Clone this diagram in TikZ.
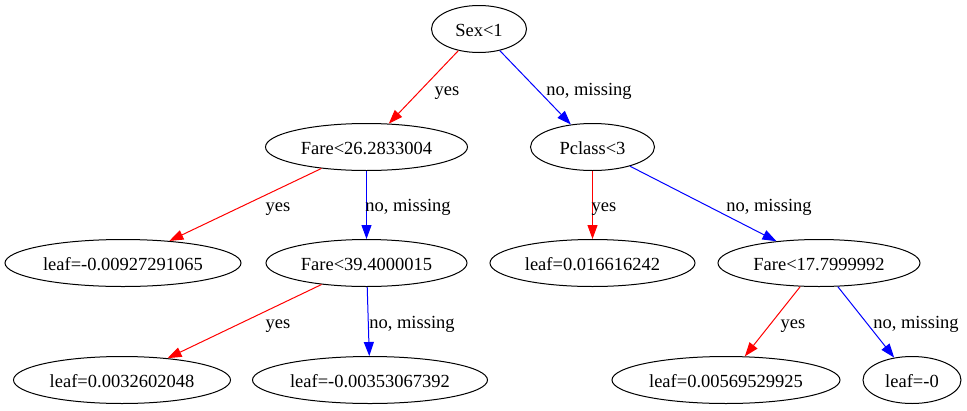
\documentclass[tikz,border=0pt]{standalone}
\usepackage{fontspec}
\setmainfont{Liberation Serif}
\usetikzlibrary{shapes.geometric,arrows.meta}
\begin{document}
\begin{tikzpicture}[x=1pt,y=-1pt,
  every node/.style={font=\fontsize{18.5}{22}\selectfont},
  tnode/.style={ellipse,draw=black,line width=1pt,inner sep=0pt,
    minimum height=47pt,text height=14pt,text depth=0pt},
  lbl/.style={anchor=base,inner sep=0pt},
  edge/.style={line width=1pt,-{Triangle[length=14pt,width=10pt]}},
  yesedge/.style={edge,red},
  noedge/.style={edge,blue}]
\useasboundingbox (0,0) rectangle (967,410);
% tree nodes
\node[tnode,minimum width=95pt]  (sex) at (479,29)    {Sex<1};
\node[tnode,minimum width=202pt] (f26) at (366.5,147) {Fare<26.2833004};
\node[tnode,minimum width=124pt] (pc)  at (592.5,147) {Pclass<3};
\node[tnode,minimum width=236pt] (l1)  at (123,263)   {leaf=-0.00927291065};
\node[tnode,minimum width=201pt] (f39) at (366.5,263) {Fare<39.4000015};
\node[tnode,minimum width=205pt] (l2)  at (592.5,263) {leaf=0.016616242};
\node[tnode,minimum width=202pt] (f17) at (819,263)   {Fare<17.7999992};
\node[tnode,minimum width=217pt] (l3)  at (122,380)   {leaf=0.0032602048};
\node[tnode,minimum width=235pt] (l4)  at (370,380)   {leaf=-0.00353067392};
\node[tnode,minimum width=228pt] (l5)  at (726,380)   {leaf=0.00569529925};
\node[tnode,minimum width=98pt]  (l6)  at (912,380)   {leaf=-0};
% branches
\draw[yesedge] (sex) -- (f26);
\draw[noedge]  (sex) -- (pc);
\draw[yesedge] (f26) -- (l1);
\draw[noedge]  (f26) -- (f39);
\draw[yesedge] (pc)  -- (l2);
\draw[noedge]  (pc)  -- (f17);
\draw[yesedge] (f39) -- (l3);
\draw[noedge]  (f39) -- (l4);
\draw[yesedge] (f17) -- (l5);
\draw[noedge]  (f17) -- (l6);
% branch labels
\node[lbl] (y1) at (447,95)  {yes};
\node[lbl] (n1) at (589,95)  {no, missing};
\node[lbl] (y2) at (278,211) {yes};
\node[lbl] (n2) at (408,211) {no, missing};
\node[lbl] (y4) at (604,211) {yes};
\node[lbl] (n4) at (769,211) {no, missing};
\node[lbl] (y3) at (278,328) {yes};
\node[lbl] (n3) at (412,328) {no, missing};
\node[lbl] (y5) at (793,328) {yes};
\node[lbl] (n5) at (916,328) {no, missing};
\end{tikzpicture}
\end{document}
